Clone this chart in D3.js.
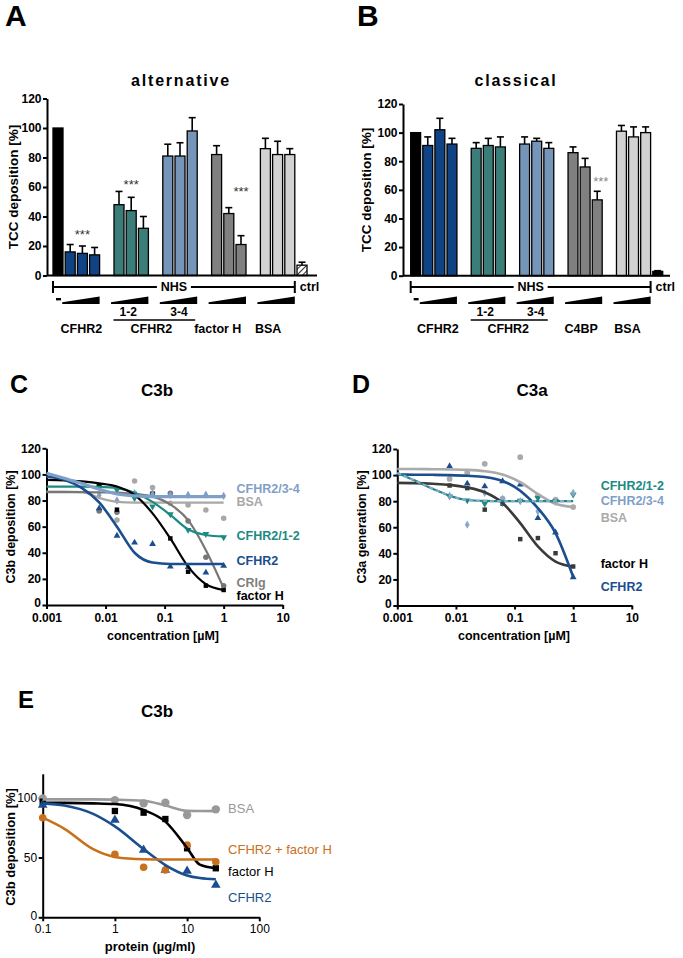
<!DOCTYPE html>
<html><head><meta charset="utf-8">
<script src="https://cdn.jsdelivr.net/npm/d3@7/dist/d3.min.js"></script>
<style>
body{margin:0;background:#fff}
text{font-family:"Liberation Sans",Arial,sans-serif}
</style>
</head><body>
<svg id="c" width="683" height="958"></svg>
<script>
// ===================== DATA =====================
// Panel A (alternative pathway) — TCC deposition [%]
const aGroups = ["–", "CFHR2", "CFHR2 1-2", "CFHR2 3-4", "factor H", "BSA", "ctrl"];
const aValues = [[100], [16, 15, 14], [48, 44, 32], [81, 81, 98], [82, 42, 21], [86, 82, 82], [7]];
const aErrors = [[0], [5, 5, 5], [9, 9, 8], [8, 9, 9], [6, 4, 6], [7, 9, 4], [2]];
const aBottomLabels = ["CFHR2", "CFHR2", "factor H", "BSA"];
// Panel B (classical pathway)
const bGroups = ["–", "CFHR2", "CFHR2 1-2", "CFHR2 3-4", "C4BP", "BSA", "ctrl"];
const bValues = [[100], [91, 102, 92], [89, 91, 90], [92, 94, 89], [86, 76, 53], [101, 97, 100], [3]];
const bErrors = [[0], [6, 8, 4], [4, 5, 7], [5, 2, 4], [4, 6, 6], [4, 7, 4], [0.5]];
const bBottomLabels = ["CFHR2", "CFHR2", "C4BP", "BSA"];
const barTicks = [0, 20, 40, 60, 80, 100, 120];

// Panel C (C3b deposition vs concentration µM)
const cCurveX = [0.001, 0.002, 0.004, 0.0078, 0.0156, 0.031, 0.0625, 0.125, 0.25, 0.5, 1];
const cPointX = [0.0078, 0.0156, 0.031, 0.0625, 0.125, 0.25, 0.5, 1];
const cCurveBSA   = [86.8, 86.8, 86.5, 82.0, 79.0, 78.4, 78.4, 78.4, 78.4, 78.4, 78.4];
const cCurveCRIg  = [86.5, 86.5, 86.4, 86.2, 86.0, 85.0, 83.0, 77.0, 65.0, 42.0, 13.0];
const cCurveR12   = [90.7, 90.7, 90.7, 90.5, 89.5, 86.0, 79.0, 69.0, 58.0, 53.6, 52.4];
const cCurveFH    = [95.8, 95.5, 94.6, 93.2, 90.7, 84.3, 70.2, 51.0, 29.4, 16.0, 11.5];
const cCurveR2    = [98.3, 96.0, 89.5, 78.5, 60.0, 40.0, 32.5, 31.4, 31.4, 31.4, 31.4];
const cCurveR34   = [100.9, 97.0, 93.0, 88.6, 85.0, 83.5, 83.0, 83.0, 83.0, 83.0, 83.0];
const cPtsBSA  = [72.8, 65, 95, 90, 77.9, 76.6, 72.8, 66.4];
const cPtsCRIg = [72, 71, 85, 85.6, 85.6, 64.4, 36.5, 14.8];
const cPtsR12  = [90.7, 88, 81.7, 75.4, 69.5, 57.5, 54.4, 51.9];
const cPtsFH   = [91, 73, 85, 85, 51, 25.5, 14.8, 11.5];
const cPtsR2   = [74, 53, 47.8, 46.7, 29.4, 29, 24.8, 30];
const cPtsR34  = [84, 80, 85.6, 85, 84.3, 84.3, 84.5, 83.5];

// Panel D (C3a generation vs concentration µM)
const dCurveX = [0.001, 0.002, 0.004, 0.0078, 0.0156, 0.031, 0.0625, 0.125, 0.25, 0.5, 1];
const dPointX = [0.0078, 0.0156, 0.031, 0.0625, 0.125, 0.25, 0.5, 1];
const dCurveBSA = [104.7, 104.7, 104.5, 104.3, 104.0, 103.0, 100.4, 94.5, 85.5, 78.0, 75.5];
const dCurveFH  = [94.0, 93.8, 93.3, 92.5, 90.5, 86.8, 78.6, 63.2, 45.3, 33.7, 29.9];
const dCurveR2  = [100.4, 100.3, 100.2, 100.0, 99.5, 98.5, 95.5, 88.0, 74.7, 55.5, 22.0];
const dCurveR12 = [101.7, 95.8, 89.6, 84.2, 80.9, 80.2, 80.0, 80.0, 80.0, 80.0, 80.0];
const dCurveR34 = [101.7, 95.8, 89.6, 84.2, 80.9, 80.2, 80.0, 80.0, 80.0, 80.0, 80.0];
const dPtsBSA = [97, 101.7, 108.6, 82, 113.7, 84, 81.2, 75.5];
const dPtsFH  = [92, 90, 73.5, 78, 50.9, 51.7, 40.1, 29.9];
const dPtsR2  = [106.8, 93.5, 91.4, 95.3, 92.7, 67, 56, 21.7];
const dPtsR12 = [83.7, 80.6, 78, 78.6, 80.4, 82.4, 79.9, 85];
const dPtsR34 = [84.2, 62, 86.3, 81.7, 80, 72.2, 79.5, 86.3];

// Panel E (C3b deposition vs protein µg/ml)
const eCurveX = [0.1, 0.2, 0.5, 1, 2.5, 5, 10, 15, 25];
const ePointX = [0.1, 1, 2.5, 5, 10, 25];
const eCurveBSA = [98.6, 98.6, 98.6, 98.4, 97.5, 93.5, 89.0, 88.9, 88.8];
const eCurveFH  = [95.8, 95.7, 95.3, 94.7, 89.7, 80.0, 58.0, 44.0, 41.0];
const eCurveR2  = [95.3, 93.5, 86.5, 76.0, 57.0, 43.7, 35.0, 32.8, 31.8];
const eCurveMix = [83.3, 74.0, 57.0, 50.5, 48.5, 48.3, 48.3, 48.3, 48.3];
const ePtsBSA = [99.4, 98, 95.3, 95.8, 85.5, 90.3];
const ePtsFH  = [96.7, 88.9, 87.5, 82.2, 57.7, 41];
const ePtsR2  = [94, 81.3, 56.3, 39.6, 38.7, 27];
const ePtsMix = [83.3, 52.6, 41.8, 39.6, 60.4, 46.5];

// ===================== DRAWING =====================
const svg = d3.select("#c");
const defs = svg.append("defs");
const pat = defs.append("pattern").attr("id", "hatch").attr("patternUnits", "userSpaceOnUse")
  .attr("width", 4).attr("height", 4).attr("patternTransform", "rotate(45)");
pat.append("rect").attr("width", 4).attr("height", 4).attr("fill", "#fff");
pat.append("line").attr("x1", 0).attr("y1", 0).attr("x2", 0).attr("y2", 4).attr("stroke", "#000").attr("stroke-width", 1.6);

function txt(s, x, y, o = {}) {
  return svg.append("text").attr("x", x).attr("y", y)
    .attr("font-size", o.size || 12).attr("font-weight", o.weight || "bold")
    .attr("fill", o.fill || "#000").attr("text-anchor", o.anchor || "start")
    .attr("dominant-baseline", o.base || "auto")
    .attr("letter-spacing", o.ls || 0)
    .attr("font-style", o.style || "normal")
    .text(s);
}
function styleAxis(sel, size, weight) {
  sel.select(".domain").attr("stroke-width", 2).attr("stroke", "#000");
  sel.selectAll(".tick line").attr("stroke-width", 2).attr("stroke", "#000");
  sel.selectAll(".tick text").attr("font-size", size).attr("font-weight", weight)
    .attr("font-family", '"Liberation Sans", Arial, sans-serif').attr("fill", "#000");
}

const barColors = ["#000000", "#0f4383", "#3b7e79", "#7596b9", "#808080", "#d2d2d2", "url(#hatch)"];
const gaps = [0, 0, 1, 1, 1, 1, 0];

function drawBars(cfg) {
  const keys = [], groupKeys = [];
  cfg.values.forEach((vals, g) => {
    if (gaps[g]) keys.push("gap" + g);
    const gk = [];
    vals.forEach((v, i) => { const k = g + "-" + i; keys.push(k); gk.push(k); });
    groupKeys.push(gk);
  });
  const x = d3.scaleBand().domain(keys).range(cfg.xRange).paddingInner(0.18).paddingOuter(0.09);
  const y = d3.scaleLinear().domain([0, 120]).range(cfg.yRange);
  const bw = x.bandwidth();
  const g = svg.append("g");
  cfg.values.forEach((vals, gi) => {
    vals.forEach((v, i) => {
      const k = groupKeys[gi][i];
      const e = cfg.errors[gi][i];
      const cx = x(k) + bw / 2;
      if (e > 0) {
        g.append("line").attr("x1", cx).attr("x2", cx).attr("y1", y(v)).attr("y2", y(v + e))
          .attr("stroke", "#000").attr("stroke-width", 1.6);
        g.append("line").attr("x1", cx - 3.5).attr("x2", cx + 3.5).attr("y1", y(v + e)).attr("y2", y(v + e))
          .attr("stroke", "#000").attr("stroke-width", 1.6);
      }
      g.append("rect").attr("x", x(k)).attr("y", y(v)).attr("width", bw).attr("height", y(0) - y(v))
        .attr("fill", gi === 6 ? cfg.ctrlFill : barColors[gi]).attr("stroke", "#000").attr("stroke-width", 1.3);
    });
  });
  // axes
  const ax = g.append("g").attr("transform", `translate(${cfg.axisX},0)`)
    .call(d3.axisLeft(y).tickValues(barTicks).tickSize(4).tickSizeOuter(0).tickPadding(1.5));
  styleAxis(ax, 12, "bold");
  g.append("line").attr("x1", cfg.axisX).attr("x2", cfg.axisEnd).attr("y1", y(0)).attr("y2", y(0))
    .attr("stroke", "#000").attr("stroke-width", 2);

  // NHS bracket
  const bx0 = x(groupKeys[0][0]), bx1 = x(groupKeys[5][2]) + bw;
  const by = 287;
  g.append("line").attr("x1", bx0).attr("x2", bx1).attr("y1", by).attr("y2", by).attr("stroke", "#000").attr("stroke-width", 2);
  [bx0, bx1].forEach(xx => g.append("line").attr("x1", xx).attr("x2", xx).attr("y1", by - 6).attr("y2", by + 6)
    .attr("stroke", "#000").attr("stroke-width", 2));
  const nx = (bx0 + bx1) / 2;
  g.append("rect").attr("x", nx - 17).attr("y", by - 7).attr("width", 34).attr("height", 14).attr("fill", "#fff");
  txt("NHS", nx, by + 0.5, { size: 12.5, anchor: "middle", base: "middle" });
  txt("ctrl", bx1 + 5, by + 0.5, { size: 12.5, base: "middle" });

  // dash and wedges
  const k0 = groupKeys[0][0];
  g.append("rect").attr("x", x(k0) + 3).attr("y", 298).attr("width", bw - 5).attr("height", 2.4).attr("fill", "#000");
  for (let gi = 1; gi <= 5; gi++) {
    const ks = groupKeys[gi];
    const w0 = x(ks[0]) - 3, w1 = x(ks[ks.length - 1]) + bw;
    g.append("polygon").attr("points", `${w0},304 ${w1},304 ${w1},296.5 ${w0},302.3`).attr("fill", "#000");
  }
  // subgroup labels
  const gc = gi => (x(groupKeys[gi][0]) + x(groupKeys[gi][2]) + bw) / 2;
  txt("1-2", gc(2) - 3, 313, { size: 12, anchor: "middle", base: "middle" });
  txt("3-4", gc(3) - 1, 313, { size: 12, anchor: "middle", base: "middle" });
  const lx0 = x(groupKeys[2][0]) - 0.5, lx1 = x(groupKeys[3][2]) + bw - cfg.lineTrim;
  g.append("line").attr("x1", lx0).attr("x2", lx1).attr("y1", 320).attr("y2", 320).attr("stroke", "#000").attr("stroke-width", 1.6);
  const centers = [gc(1), (lx0 + lx1) / 2, gc(4), gc(5)];
  cfg.bottom.forEach((s, i) => txt(s, centers[i] + cfg.labelShift[i], 330, { size: 12.5, anchor: "middle", base: "middle" }));

  // stars
  cfg.stars.forEach(st => {
    const k = groupKeys[st.g][st.i];
    txt("***", x(k) + bw / 2 + (st.dx || 0), y(st.v), { size: 13, weight: "normal", anchor: "middle", base: "middle", fill: st.fill || "#333", style: st.style || "normal" });
  });
  return { x, y };
}

// ---- Panel A
txt("A", 5, 26, { size: 30 });
txt("alternative", 181, 86, { size: 16, anchor: "middle", ls: 1.8 });
drawBars({
  values: aValues, errors: aErrors, xRange: [51.9, 308.1], yRange: [275.5, 98.5],
  axisX: 47, axisEnd: 317, ctrlFill: "url(#hatch)", bottom: aBottomLabels,
  labelShift: [-1, -3, -11, -9.5], lineTrim: 2,
  stars: [{ g: 1, i: 1, v: 27 }, { g: 2, i: 1, v: 61 }, { g: 4, i: 2, v: 56 }]
});
svg.append("text").attr("transform", "translate(14,187) rotate(-90)").attr("text-anchor", "middle")
  .attr("font-size", 13.5).attr("font-weight", "bold").attr("dominant-baseline", "middle").text("TCC deposition [%]");

// ---- Panel B
txt("B", 357, 26, { size: 30 });
txt("classical", 516, 86, { size: 16, anchor: "middle", ls: 1.8 });
drawBars({
  values: bValues, errors: bErrors, xRange: [409.6, 663.8], yRange: [275.7, 104],
  axisX: 403, axisEnd: 670, ctrlFill: "#000", bottom: bBottomLabels,
  labelShift: [-2, -1, -4, -6], lineTrim: 6,
  stars: [{ g: 4, i: 2, v: 65, dx: 3, fill: "#888", style: "italic" }]
});
svg.append("text").attr("transform", "translate(367,190) rotate(-90)").attr("text-anchor", "middle")
  .attr("font-size", 13.5).attr("font-weight", "bold").attr("dominant-baseline", "middle").text("TCC deposition [%]");

// ---- Line panels
const symType = {
  circle: d3.symbolCircle, square: d3.symbolSquare, up: d3.symbolTriangle,
  down: d3.symbolTriangle, diamond: d3.symbolDiamond
};
function drawLines(cfg) {
  const x = d3.scaleLog().domain(cfg.xDomain).range(cfg.xRange);
  const y = d3.scaleLinear().domain([0, 120]).range(cfg.yRange);
  const g = svg.append("g");
  const ax = g.append("g").attr("transform", `translate(0,${cfg.yRange[0]})`)
    .call(d3.axisBottom(x).tickValues(cfg.xTicks).tickFormat(d => cfg.xFmt(d)).tickSize(4).tickSizeOuter(0).tickPadding(cfg.xPad));
  styleAxis(ax, cfg.tickSize, cfg.tickWeight);
  const ay = g.append("g").attr("transform", `translate(${cfg.xRange[0]},0)`)
    .call(d3.axisLeft(y).tickValues(cfg.yTicks).tickSize(4).tickSizeOuter(0).tickPadding(1.5));
  styleAxis(ay, cfg.tickSize, cfg.tickWeight);
  // keep the "0" y-label clear of the first x-label
  ay.selectAll(".tick").filter(d => d === 0).select("text").attr("dy", "0.15em");
  const line = d3.line().x(d => x(d[0])).y(d => y(d[1])).curve(d3.curveMonotoneX);
  cfg.series.forEach(s => {
    s.pts.forEach((v, i) => {
      g.append("path").attr("d", d3.symbol().type(symType[s.sym]).size(s.symSize || cfg.symSize)())
        .attr("transform", `translate(${x(cfg.pointX[i])},${y(v)})` + (s.sym === "down" ? " rotate(180)" : ""))
        .attr("fill", s.ptColor || s.color);
    });
  });
  cfg.series.forEach(s => {
    const data = cfg.curveX.map((xx, i) => [xx, s.curve[i]]);
    g.append("path").attr("d", line(data)).attr("fill", "none").attr("stroke", s.color)
      .attr("stroke-width", s.width || 2.5).attr("stroke-dasharray", s.dash || null);
  });
  cfg.series.forEach(s => {
    if (s.label) txt(s.label, x(cfg.labelX), y(s.labelY), { size: cfg.labelSize, weight: cfg.labelWeight, fill: s.labelColor || s.color, base: "middle" });
  });
  return { x, y };
}

const fmtConc = d => d3.format("")(d);

// ---- Panel C
txt("C", 10, 393, { size: 25 });
txt("C3b", 157, 396, { size: 17, anchor: "middle" });
drawLines({
  xDomain: [0.001, 10], xRange: [46.5, 282.7], yRange: [605, 448.3],
  xTicks: [0.001, 0.01, 0.1, 1, 10], xFmt: fmtConc, yTicks: barTicks, xPad: 4,
  tickSize: 12, tickWeight: "bold", symSize: 20,
  curveX: cCurveX, pointX: cPointX, labelX: 1.65, labelSize: 12.5, labelWeight: "bold",
  series: [
    { curve: cCurveBSA, pts: cPtsBSA, color: "#a8a8a8", sym: "circle", symSize: 24, width: 2.2, label: "BSA", labelY: 78 },
    { curve: cCurveCRIg, pts: cPtsCRIg, color: "#777777", sym: "circle", symSize: 24, width: 2.2, label: "CRIg", labelY: 16.5, labelColor: "#808080" },
    { curve: cCurveR12, pts: cPtsR12, color: "#1b8a83", sym: "down", width: 2.2, label: "CFHR2/1-2", labelY: 52 },
    { curve: cCurveFH, pts: cPtsFH, color: "#000000", sym: "square", width: 2.2, label: "factor H", labelY: 6.5 },
    { curve: cCurveR2, pts: cPtsR2, color: "#1a4e8e", sym: "up", width: 2.6, label: "CFHR2", labelY: 33 },
    { curve: cCurveR34, pts: cPtsR34, color: "#7f9fc8", sym: "diamond", width: 3.2, label: "CFHR2/3-4", labelY: 88 }
  ]
});
txt("concentration [µM]", 163, 637, { size: 12.5, anchor: "middle", base: "middle" });
svg.append("text").attr("transform", "translate(12,527) rotate(-90)").attr("text-anchor", "middle")
  .attr("font-size", 12.5).attr("font-weight", "bold").attr("dominant-baseline", "middle").text("C3b deposition [%]");

// ---- Panel D
txt("D", 352, 393, { size: 25 });
txt("C3a", 532, 396, { size: 17, anchor: "middle" });
drawLines({
  xDomain: [0.001, 10], xRange: [397.3, 631.8], yRange: [605.5, 449],
  xTicks: [0.001, 0.01, 0.1, 1, 10], xFmt: fmtConc, yTicks: barTicks, xPad: 4,
  tickSize: 12, tickWeight: "bold", symSize: 20,
  curveX: dCurveX, pointX: dPointX, labelX: 2.95, labelSize: 12.5, labelWeight: "bold",
  series: [
    { curve: dCurveBSA, pts: dPtsBSA, color: "#aaaaaa", sym: "circle", symSize: 26, width: 2.6, label: "BSA", labelY: 66.5 },
    { curve: dCurveFH, pts: dPtsFH, color: "#3a3a3a", sym: "square", width: 2.6, label: "factor H", labelY: 31, labelColor: "#000" },
    { curve: dCurveR2, pts: dPtsR2, color: "#1a4e8e", sym: "up", width: 2.6, label: "CFHR2", labelY: 13.5 },
    { curve: dCurveR12, pts: dPtsR12, color: "#1b8a83", sym: "down", width: 2.2, label: "CFHR2/1-2", labelY: 91 },
    { curve: dCurveR34, pts: dPtsR34, color: "#8aa7cc", sym: "diamond", width: 2.2, dash: "4,3", label: "CFHR2/3-4", labelY: 79.5, labelColor: "#7f9fc8" }
  ]
});
txt("concentration [µM]", 514, 637, { size: 12.5, anchor: "middle", base: "middle" });
svg.append("text").attr("transform", "translate(363,527) rotate(-90)").attr("text-anchor", "middle")
  .attr("font-size", 12.5).attr("font-weight", "bold").attr("dominant-baseline", "middle").text("C3a generation [%]");

// ---- Panel E
txt("E", 18, 708, { size: 24 });
txt("C3b", 157, 717, { size: 17, anchor: "middle" });
drawLines({
  xDomain: [0.1, 100], xRange: [42.7, 259.3], yRange: [917.3, 773.8],
  xTicks: [0.1, 1, 10, 100], xFmt: fmtConc, yTicks: [0, 50, 100], xPad: 3,
  tickSize: 12, tickWeight: "normal", symSize: 40,
  curveX: eCurveX, pointX: ePointX, labelX: 37, labelSize: 13, labelWeight: "normal",
  series: [
    { curve: eCurveBSA, pts: ePtsBSA, color: "#999999", sym: "circle", symSize: 55, width: 2.6, label: "BSA", labelY: 89.7 },
    { curve: eCurveFH, pts: ePtsFH, color: "#000000", sym: "square", width: 2.6, label: "factor H", labelY: 37 },
    { curve: eCurveR2, pts: ePtsR2, color: "#1a4e8e", sym: "up", width: 2.6, label: "CFHR2", labelY: 16 },
    { curve: eCurveMix, pts: ePtsMix, color: "#c8701c", sym: "circle", symSize: 45, width: 2.6, label: "CFHR2 + factor H", labelY: 55.5 }
  ]
});
txt("protein (µg/ml)", 150, 948, { size: 13, anchor: "middle", base: "middle" });
svg.append("text").attr("transform", "translate(12,847) rotate(-90)").attr("text-anchor", "middle")
  .attr("font-size", 13).attr("font-weight", "bold").attr("dominant-baseline", "middle").text("C3b deposition [%]");
</script>
</body></html>
